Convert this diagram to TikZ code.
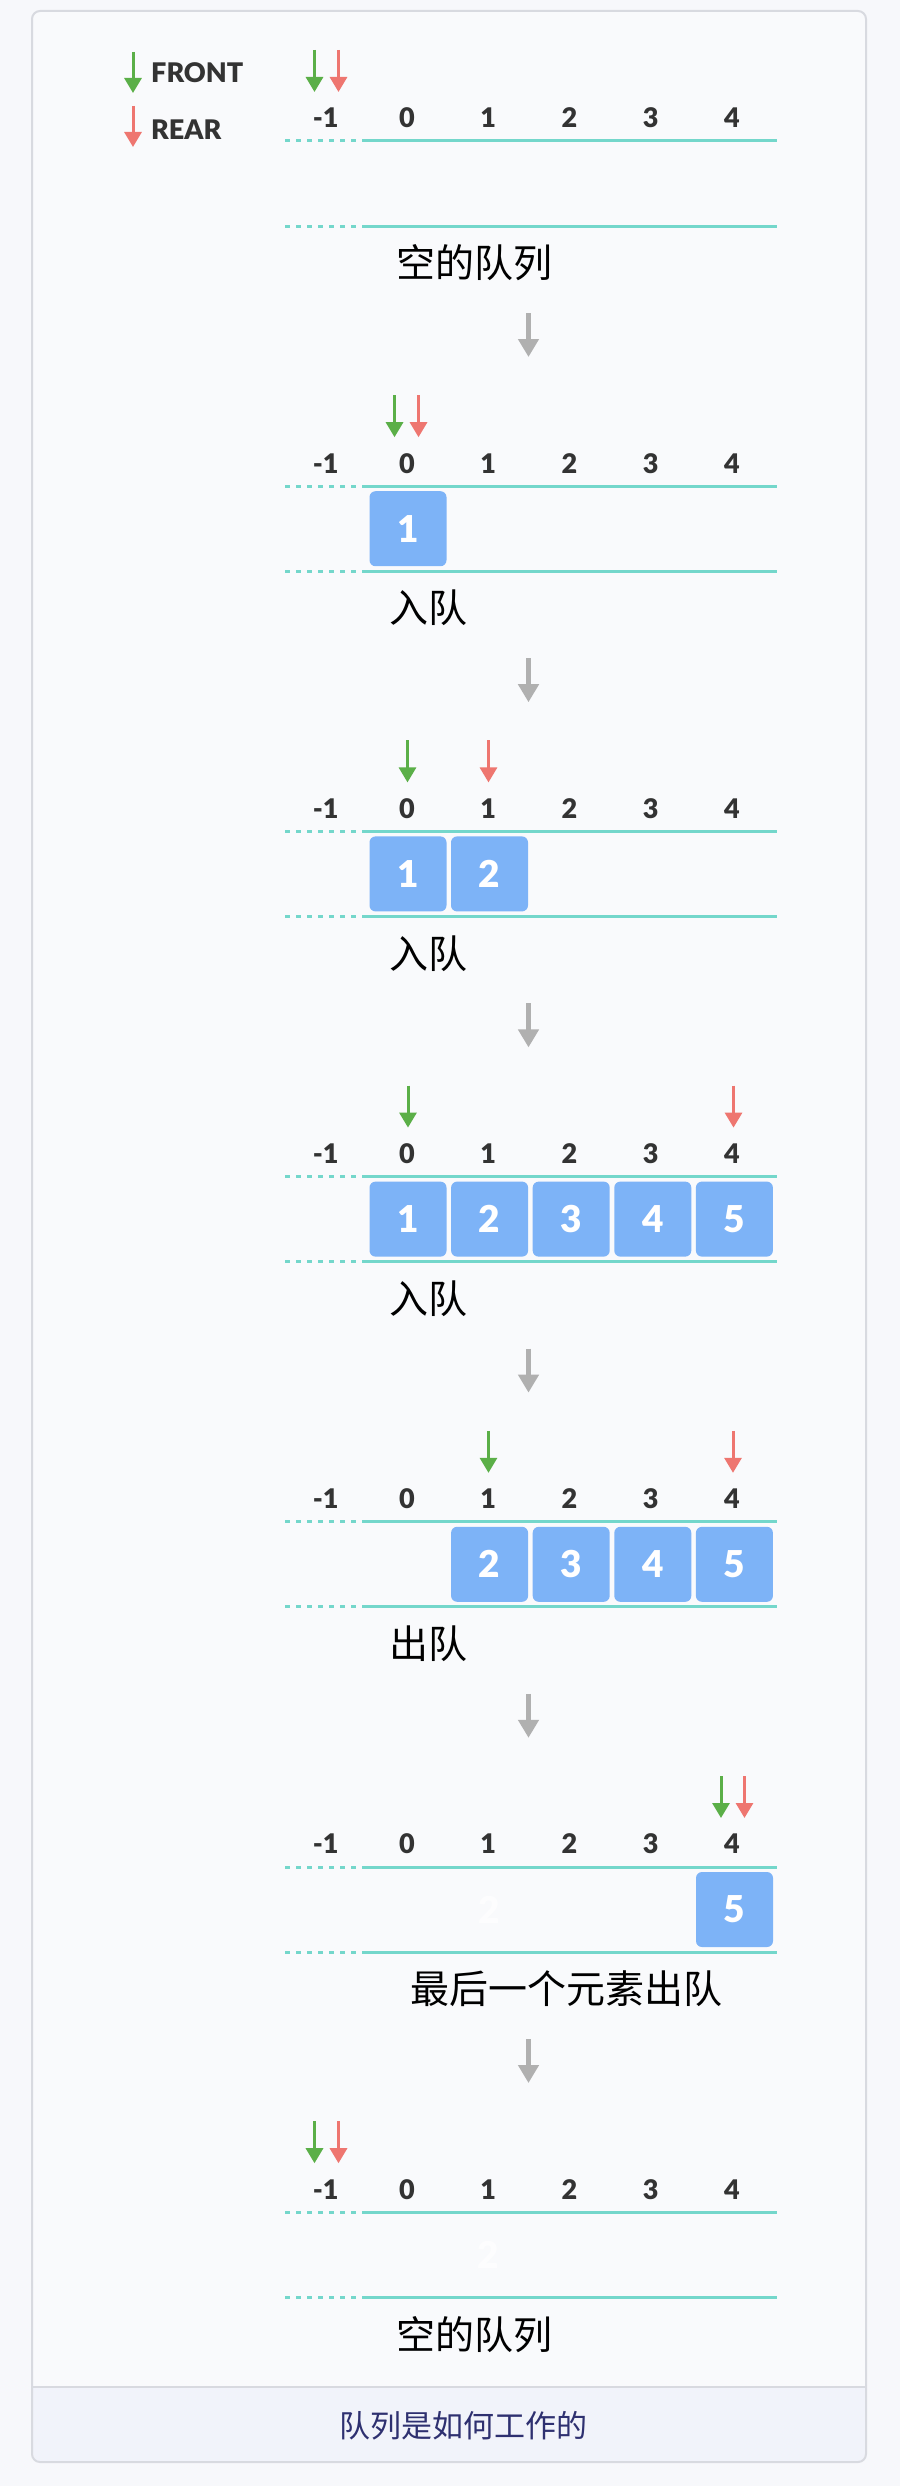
\documentclass[tikz,border=0pt]{standalone}
\usepackage{fontspec}
\setmainfont{Lato}
\newfontfamily\heavyfont{Lato Black}
\newfontfamily\cjk{Noto Sans CJK SC}
\usetikzlibrary{arrows.meta}
\definecolor{outbg}{HTML}{F7F8FB}
\definecolor{inbg}{HTML}{F9FAFC}
\definecolor{capbg}{HTML}{F1F3FA}
\definecolor{framec}{HTML}{D8DAE0}
\definecolor{railc}{HTML}{74D7CB}
\definecolor{qblue}{HTML}{7DB3F7}
\definecolor{fgreen}{HTML}{5BAF48}
\definecolor{rred}{HTML}{EE7670}
\definecolor{idxc}{HTML}{333333}
\definecolor{navy}{HTML}{2E3070}
\definecolor{flowc}{HTML}{B0B0B0}
\newcommand{\qptr}[4]{% style, name, x, T
  \coordinate (#2a) at (#3,#4-91); \coordinate (#2b) at (#3,#4-49);
  \draw[#1] (#2a) -- (#2b);}
\begin{document}
\begin{tikzpicture}[x=1pt,y=-1pt,
  idxlab/.style={font=\heavyfont\fontsize{27}{27}\selectfont, text=idxc, inner sep=0},
  legtext/.style={font=\heavyfont\fontsize{27}{27}\selectfont, text=idxc, inner sep=0, anchor=west},
  cell/.style={fill=qblue, rounded corners=6pt, minimum width=77pt, minimum height=75pt, inner sep=0, text=white, font=\heavyfont\fontsize{37}{37}\selectfont},
  ghost/.style={inner sep=0, text=white, opacity=0.7, font=\heavyfont\fontsize{37}{37}\selectfont},
  railsolid/.style={draw=railc, line width=3pt},
  raildot/.style={draw=railc, line width=3pt, dash pattern=on 5pt off 6pt},
  steplab/.style={font=\cjk\fontsize{39}{39}\selectfont, text=black, inner sep=0},
  ptrf/.style={draw=fgreen, line width=3pt, -{Triangle[width=17pt,length=15pt]}},
  ptrr/.style={draw=rred, line width=3pt, -{Triangle[width=17pt,length=15pt]}},
  flowarrow/.style={draw=flowc, line width=4.5pt, -{Triangle[width=20pt,length=18pt]}},
]
\useasboundingbox (0,0) rectangle (900,2486);
\fill[outbg] (0,0) rectangle (900,2486);
\fill[inbg, rounded corners=8pt] (32,11) rectangle (866,2462);
\begin{scope}
  \clip[rounded corners=8pt] (32,11) rectangle (866,2462);
  \fill[capbg] (32,2387) rectangle (866,2462);
\end{scope}
\draw[framec, line width=1.5pt] (32,2387) -- (866,2387);
\draw[framec, line width=2pt, rounded corners=8pt] (32,11) rectangle (866,2462);

% legend
\node[legtext] (front) at (151,73) {FRONT};
\node[legtext] (rear) at (151,130) {REAR};
\coordinate (lf1) at (133,52); \coordinate (lf2) at (133,93);
\coordinate (lr1) at (133,106); \coordinate (lr2) at (133,147);
\draw[ptrf] (lf1) -- (lf2);
\draw[ptrr] (lr1) -- (lr2);

% panels
\foreach \k/\T in {1/141,2/486.2,3/831.4,4/1176.6,5/1521.8,6/1867,7/2212.2}{
  \foreach \i in {-1,0,1,2,3,4}{
    \node[idxlab] (ix\k\i) at ({407+81.25*\i},\T-23) {\i};
  }
  \coordinate (tl\k) at (285,\T); \coordinate (tm\k) at (367,\T); \coordinate (tr\k) at (777,\T);
  \coordinate (bl\k) at (285,\T+85); \coordinate (bm\k) at (367,\T+85); \coordinate (br\k) at (777,\T+85);
  \draw[raildot] (tl\k) -- (tm\k);
  \draw[railsolid] (tm\k) -- (tr\k);
  \draw[raildot] (bl\k) -- (bm\k);
  \draw[railsolid] (bm\k) -- (br\k);
}

% pointer arrows
\qptr{ptrf}{p1f}{314.5}{141}      \qptr{ptrr}{p1r}{338.5}{141}
\qptr{ptrf}{p2f}{394.5}{486.2}    \qptr{ptrr}{p2r}{418.5}{486.2}
\qptr{ptrf}{p3f}{407.5}{831.4}    \qptr{ptrr}{p3r}{488.5}{831.4}
\qptr{ptrf}{p4f}{408}{1176.6}     \qptr{ptrr}{p4r}{733.5}{1176.6}
\qptr{ptrf}{p5f}{488.5}{1521.8}   \qptr{ptrr}{p5r}{733}{1521.8}
\qptr{ptrf}{p6f}{721}{1867}       \qptr{ptrr}{p6r}{744.5}{1867}
\qptr{ptrf}{p7f}{314.5}{2212.2}   \qptr{ptrr}{p7r}{338.5}{2212.2}

% cells
\node[cell] (c2a) at (408,486.2+42.5) {1};
\node[cell] (c3a) at (408,831.4+42.5) {1};
\node[cell] (c3b) at (489.5,831.4+42.5) {2};
\foreach \v/\i in {1/0,2/1,3/2,4/3,5/4}{
  \node[cell] (c4\v) at ({408+81.6*\i},1176.6+42.5) {\v};
}
\foreach \v/\i in {2/1,3/2,4/3,5/4}{
  \node[cell] (c5\v) at ({408+81.6*\i},1521.8+42.5) {\v};
}
\node[ghost] (g6) at (489.5,1867+42.5) {2};
\node[cell] (c65) at (734.5,1867+42.5) {5};
\node[ghost] (g7) at (488,2212.2+42.5) {2};

% step labels
\node[steplab] (s1) at (474,141+122) {空的队列};
\node[steplab] (s2) at (428,486.2+122) {入队};
\node[steplab] (s3) at (428,831.4+122) {入队};
\node[steplab] (s4) at (428,1176.6+122) {入队};
\node[steplab] (s5) at (428,1521.8+122) {出队};
\node[steplab] (s6) at (566,1867+122) {最后一个元素出队};
\node[steplab] (s7) at (474,2212.2+122) {空的队列};

% flow arrows
\foreach \k/\T in {1/141,2/486.2,3/831.4,4/1176.6,5/1521.8,6/1867}{
  \coordinate (fa\k) at (528.5,\T+172);
  \coordinate (fb\k) at (528.5,\T+216);
  \draw[flowarrow] (fa\k) -- (fb\k);
}

% caption
\node[font=\cjk\fontsize{31}{31}\selectfont, text=navy, inner sep=0] (cap) at (463,2426) {队列是如何工作的};
\end{tikzpicture}
\end{document}
